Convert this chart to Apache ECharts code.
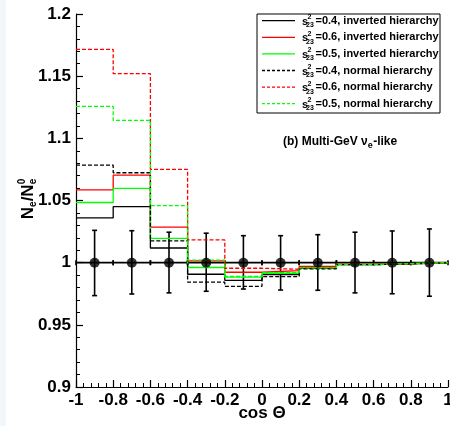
<!DOCTYPE html>
<html><head><meta charset="utf-8">
<script src="https://cdn.jsdelivr.net/npm/echarts@6/dist/echarts.min.js"></script>
<style>html,body{margin:0;padding:0;background:#fff}#c{width:450px;height:426px}</style>
</head><body><div id="c"></div>
<script>
// ---- data ----
const binEdges = [-1, -0.8, -0.6, -0.4, -0.2, 0, 0.2, 0.4, 0.6, 0.8, 1];
const binCenters = [-0.9, -0.7, -0.5, -0.3, -0.1, 0.1, 0.3, 0.5, 0.7, 0.9];
const ih04 = [1.036, 1.045, 1.0118, 0.9907, 0.9858, 0.9905, 0.9955, 0.9985, 0.999, 1.0];
const ih06 = [1.0586, 1.0704, 1.0286, 1.0015, 0.9923, 0.9936, 0.997, 0.9988, 0.9993, 1.0];
const ih05 = [1.0484, 1.0597, 1.0195, 0.9961, 0.9883, 0.9915, 0.996, 0.9986, 0.9992, 1.0];
const nh04 = [1.0784, 1.0723, 1.0175, 0.9843, 0.981, 0.9888, 0.995, 0.9984, 0.999, 1.0];
const nh06 = [1.1715, 1.152, 1.075, 1.0183, 0.9955, 0.9947, 0.9965, 0.9987, 0.9993, 1.0];
const nh05 = [1.1257, 1.1144, 1.0459, 1.002, 0.989, 0.992, 0.9958, 0.9986, 0.9992, 1.0];
const pointY = [1, 1, 1, 1, 1, 1, 1, 1, 1, 1];
const errUp = [0.026, 0.0257, 0.0245, 0.0237, 0.0217, 0.0217, 0.0225, 0.0245, 0.0255, 0.0271];
const errDown = [0.0265, 0.0252, 0.0243, 0.023, 0.0212, 0.022, 0.0222, 0.0243, 0.025, 0.027];
const legendValues = ['0.4', '0.6', '0.5', '0.4', '0.6', '0.5'];
const legendHier = ['inverted hierarchy', 'inverted hierarchy', 'inverted hierarchy', 'normal hierarchy', 'normal hierarchy', 'normal hierarchy'];
const annotation = ['(b) Multi-GeV \u03bd', 'e', '-like'];
const xTitle = 'cos \u0398';

// ---- styles ----
const histList = [
  {v: ih04, color: '#000000', dash: 'solid'},
  {v: ih06, color: '#ff0000', dash: 'solid'},
  {v: ih05, color: '#00ff00', dash: 'solid'},
  {v: nh04, color: '#000000', dash: [4, 2]},
  {v: nh06, color: '#ff0000', dash: [4, 2]},
  {v: nh05, color: '#00ff00', dash: [4, 2]}
];
const FF = '"Liberation Sans", Arial, Helvetica, sans-serif';
const cv = document.createElement('canvas').getContext('2d');
function tw(t, f) { cv.font = f; return cv.measureText(t).width; }

const chart = echarts.init(document.getElementById('c'), null, {renderer: 'canvas'});

const series = [];
series.push({
  type: 'custom', z: 3, silent: true,
  data: binCenters.map((x, i) => [x, pointY[i], errUp[i], errDown[i]]),
  renderItem: function (params, api) {
    const x = api.value(0), y = api.value(1), up = api.value(2), dn = api.value(3);
    const t = api.coord([x, y + up]), b = api.coord([x, y - dn]);
    const l = api.coord([x - 0.1, y]), r = api.coord([x + 0.1, y]);
    const st = {stroke: '#000', lineWidth: 1.6};
    const L = (x1, y1, x2, y2) => ({type: 'line', shape: {x1, y1, x2, y2}, style: st});
    return {type: 'group', children: [
      L(t[0], t[1], b[0], b[1]),
      L(t[0] - 2.5, t[1], t[0] + 2.5, t[1]),
      L(b[0] - 2.5, b[1], b[0] + 2.5, b[1]),
      L(l[0], l[1], r[0], r[1]),
      L(l[0], l[1] - 2.5, l[0], l[1] + 2.5),
      L(r[0], r[1] - 2.5, r[0], r[1] + 2.5)
    ]};
  }
});
histList.forEach((h, k) => {
  series.push({
    type: 'line', step: 'end', symbol: 'none', z: 4 + k, silent: true,
    data: binEdges.map((x, i) => [x, h.v[Math.min(i, h.v.length - 1)]]),
    lineStyle: {color: h.color, width: 1.3, type: h.dash}
  });
});
series.push({
  type: 'scatter', z: 20, silent: true, symbol: 'circle', symbolSize: 10,
  itemStyle: {color: '#000'},
  data: binCenters.map((x, i) => [x, pointY[i]])
});

const lg = [];
const boxX = 257, boxY = 14, boxW = 183, boxH = 99;
lg.push({type: 'rect', shape: {x: boxX, y: boxY, width: boxW, height: boxH},
  style: {fill: '#fff', stroke: '#000', lineWidth: 1}, z: 100});
const rowY0 = 20.7, rowDy = 16.6;
const fMain = 'bold 11px ' + FF, fSmall = 'bold 7px ' + FF;
histList.forEach((h, i) => {
  const y = rowY0 + i * rowDy;
  lg.push({type: 'line', shape: {x1: 262, y1: y, x2: 295, y2: y},
    style: {stroke: h.color, lineWidth: 1.3, lineDash: h.dash === 'solid' ? null : [3, 2]}, z: 101});
  lg.push({type: 'text', x: 302, y: y + 1, z: 101,
    style: {text: 's', font: fMain, fill: '#000', textAlign: 'left', textVerticalAlign: 'middle'}});
  lg.push({type: 'text', x: 307.5, y: y - 3.5, z: 101,
    style: {text: '2', font: fSmall, fill: '#000', textAlign: 'left', textVerticalAlign: 'middle'}});
  lg.push({type: 'text', x: 306, y: y + 4.5, z: 101,
    style: {text: '23', font: fSmall, fill: '#000', textAlign: 'left', textVerticalAlign: 'middle'}});
  lg.push({type: 'text', x: 315.5, y: y, z: 101,
    style: {text: '=' + legendValues[i] + ', ' + legendHier[i], font: fMain, fill: '#000', textAlign: 'left', textVerticalAlign: 'middle'}});
});

const fAnn = 'bold 12px ' + FF, fAnnS = 'bold 9px ' + FF;
const ax0 = 283, ay = 142;
const w1 = tw(annotation[0], fAnn), w2 = tw(annotation[1], fAnnS);
lg.push({type: 'text', x: ax0, y: ay, z: 101, style: {text: annotation[0], font: fAnn, fill: '#000', textAlign: 'left', textVerticalAlign: 'middle'}});
lg.push({type: 'text', x: ax0 + w1, y: ay + 4, z: 101, style: {text: annotation[1], font: fAnnS, fill: '#000', textAlign: 'left', textVerticalAlign: 'middle'}});
lg.push({type: 'text', x: ax0 + w1 + w2 + 0.5, y: ay, z: 101, style: {text: annotation[2], font: fAnn, fill: '#000', textAlign: 'left', textVerticalAlign: 'middle'}});

// x-axis title
lg.push({type: 'text', x: 262, y: 413, z: 101, style: {text: xTitle, font: 'bold 17px ' + FF, fill: '#000', textAlign: 'center', textVerticalAlign: 'middle'}});

const fN = 'bold 17px ' + FF, fNs = 'bold 10px ' + FF;
const wN = tw('N', fN), we = tw('e', fNs), ws = tw('/', fN);
const total = wN + we + ws + wN + we;
let cx = -total / 2;
const yc = [];
yc.push({type: 'text', x: cx, y: 0, style: {text: 'N', font: fN, fill: '#000', textAlign: 'left', textVerticalAlign: 'middle'}}); cx += wN;
yc.push({type: 'text', x: cx, y: 5, style: {text: 'e', font: fNs, fill: '#000', textAlign: 'left', textVerticalAlign: 'middle'}}); cx += we;
yc.push({type: 'text', x: cx, y: 0, style: {text: '/', font: fN, fill: '#000', textAlign: 'left', textVerticalAlign: 'middle'}}); cx += ws;
yc.push({type: 'text', x: cx, y: 0, style: {text: 'N', font: fN, fill: '#000', textAlign: 'left', textVerticalAlign: 'middle'}}); cx += wN;
yc.push({type: 'text', x: cx, y: 5, style: {text: 'e', font: fNs, fill: '#000', textAlign: 'left', textVerticalAlign: 'middle'}});
yc.push({type: 'text', x: cx, y: -6, style: {text: '0', font: fNs, fill: '#000', textAlign: 'left', textVerticalAlign: 'middle'}});
lg.push({type: 'group', x: 28, y: 199, rotation: Math.PI / 2, children: yc, z: 101});

lg.push({type: 'rect', shape: {x: 0, y: 0, width: 6, height: 426}, style: {fill: '#f2f6fa'}, z: -1});

const axisCommon = {
  type: 'value',
  axisLine: {show: true, onZero: false, lineStyle: {color: '#000', width: 1.2}},
  axisTick: {show: true, inside: true, length: 7, lineStyle: {color: '#000', width: 1.2}},
  minorTick: {show: true, splitNumber: 5, length: 4, lineStyle: {color: '#000', width: 1}},
  splitLine: {show: false},
  minorSplitLine: {show: false},
  axisLabel: {color: '#000', fontFamily: FF, fontWeight: 'bold', fontSize: 17, margin: 5}
};

chart.setOption({
  animation: false,
  backgroundColor: '#fff',
  grid: {left: 76, right: 2, top: 14, bottom: 39, containLabel: false, outerBoundsMode: 'none'},
  xAxis: Object.assign({}, axisCommon, {min: -1, max: 1, interval: 0.2}),
  yAxis: Object.assign({}, axisCommon, {min: 0.9, max: 1.2, interval: 0.05}),
  series: series,
  graphic: lg
});
</script>
</body></html>
